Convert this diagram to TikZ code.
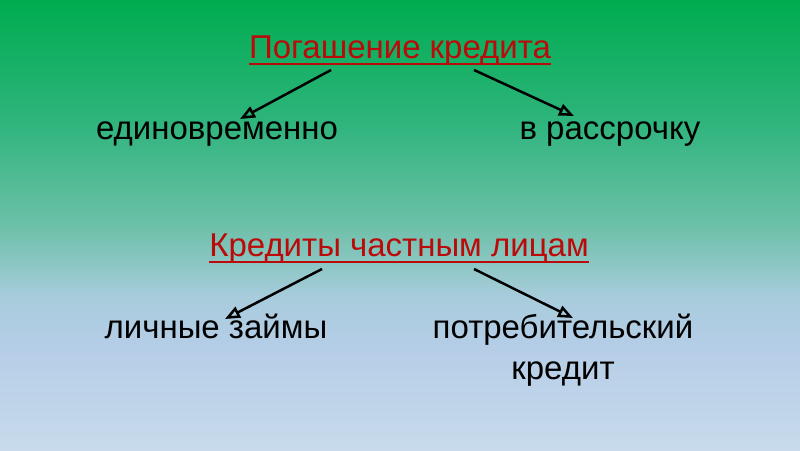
\documentclass[tikz,border=0pt]{standalone}
\usepackage{fontspec}
\setmainfont{Liberation Sans}
\usetikzlibrary{calc,arrows.meta}
\definecolor{headred}{HTML}{BA0A0A}
\pgfdeclareverticalshading{slidebg}{100bp}{%
  color(0bp)=(rgb,255:red,200;green,218;blue,236);
  color(25bp)=(rgb,255:red,200;green,218;blue,236);
  color(37bp)=(rgb,255:red,180;green,205;blue,230);
  color(42bp)=(rgb,255:red,168;green,204;blue,220);
  color(50bp)=(rgb,255:red,108;green,192;blue,168);
  color(62bp)=(rgb,255:red,44;green,180;blue,122);
  color(75bp)=(rgb,255:red,0;green,172;blue,80);
  color(100bp)=(rgb,255:red,0;green,172;blue,80)}

\begin{document}
\begin{tikzpicture}[x=1pt, y=1pt,
    every node/.style={font=\fontsize{33}{40}\selectfont, inner sep=0pt, anchor=base},
    head/.style={text=headred},
    item/.style={text=black},
    uline/.style={headred, line width=2.5pt},
    link/.style={-{Triangle[open, length=15pt, width=12pt]}, line width=2.5pt, black}
  ]
  \shade[shading=slidebg] (0,0) rectangle (800,450);

  % погашение
  \node[head] (pay) at (400,391) {Погашение кредита};
  \draw[uline] ([yshift=-5pt]pay.base west) -- ([yshift=-5pt]pay.base east);
  \node[item] (once) at (217,310) {единовременно};
  \node[item] (parts) at (610,310) {в рассрочку};
  \coordinate (payl) at ($(pay.base)+(-69,-11)$);
  \coordinate (payr) at ($(pay.base)+(74,-11)$);
  \coordinate (oncein) at ($(once.base)+(23,21)$);
  \coordinate (partsin) at ($(parts.base)+(-36,24)$);
  \draw[link] (payl) -- (oncein);
  \draw[link] (payr) -- (partsin);

  % кредиты
  \node[head] (priv) at (399,193) {Кредиты частным лицам};
  \draw[uline] ([yshift=-5pt]priv.base west) -- ([yshift=-5pt]priv.base east);
  \node[item] (loans) at (216,112) {личные займы};
  \node[item] (cons) at (563,112) {потребительский};
  \node[item] (consb) at (563,71) {кредит};
  \coordinate (privl) at ($(priv.base)+(-77,-12)$);
  \coordinate (privr) at ($(priv.base)+(75,-12)$);
  \coordinate (loansin) at ($(loans.base)+(9,19)$);
  \coordinate (consin) at ($(cons.base)+(10,20)$);
  \draw[link] (privl) -- (loansin);
  \draw[link] (privr) -- (consin);
\end{tikzpicture}
\end{document}
